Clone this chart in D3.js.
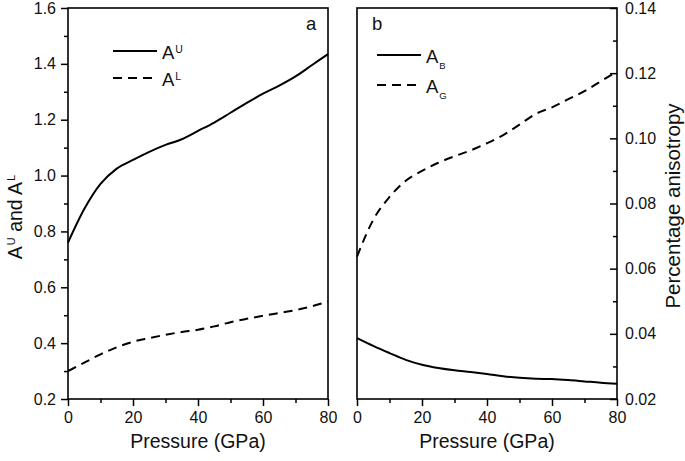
<!DOCTYPE html>
<html>
<head>
<meta charset="utf-8">
<script src="https://cdn.jsdelivr.net/npm/d3@7"></script>
<style>
  body { margin: 0; background: #fff; }
  svg { font-family: "Liberation Sans", Arial, sans-serif; }
</style>
</head>
<body>
<div id="chart"></div>
<script>
// Dữ liệu áp suất (GPa)
const pressure = [0, 5, 10, 15, 20, 25, 30, 35, 40, 45, 50, 55, 60, 65, 70, 75, 80];
// Panel a
const aU = [0.76, 0.88, 0.97, 1.025, 1.056, 1.085, 1.11, 1.13, 1.16, 1.19, 1.225, 1.26, 1.293, 1.322, 1.355, 1.395, 1.435];
const aL = [0.30, 0.33, 0.36, 0.385, 0.405, 0.418, 0.43, 0.44, 0.448, 0.46, 0.475, 0.487, 0.498, 0.508, 0.518, 0.532, 0.549];
// Panel b
const aB = [0.0387, 0.0363, 0.0341, 0.032, 0.0305, 0.0295, 0.0288, 0.0283, 0.0277, 0.027, 0.0265, 0.0262, 0.0261, 0.0258, 0.0254, 0.025, 0.0247];
const aG = [0.0637, 0.075, 0.082, 0.087, 0.090, 0.0925, 0.0945, 0.0963, 0.0985, 0.101, 0.1042, 0.1075, 0.1095, 0.112, 0.1145, 0.1175, 0.1205];

const xTicks = [0, 20, 40, 60, 80];
const xMinor = [10, 30, 50, 70];
const yTicksA = [0.2, 0.4, 0.6, 0.8, 1.0, 1.2, 1.4, 1.6];
const yMinorA = [0.3, 0.5, 0.7, 0.9, 1.1, 1.3, 1.5];
const yTicksB = [0.02, 0.04, 0.06, 0.08, 0.10, 0.12, 0.14];
const yMinorB = [0.03, 0.05, 0.07, 0.09, 0.11, 0.13];

const width = 685, height = 461;
const plotTop = 8, plotBottom = 399;

const svg = d3.select('#chart').append('svg')
    .attr('width', width)
    .attr('height', height);

const dash = '9,6';

// Vẽ một panel
function drawPanel(opt) {
    const x = d3.scaleLinear().domain([0, 80]).range([opt.x0, opt.x1]);
    const y = d3.scaleLinear().domain(opt.yDomain).range([plotBottom, plotTop]);
    const g = svg.append('g');

    // Trục x (tick hướng ra ngoài)
    g.append('g')
        .attr('transform', `translate(0,${plotBottom})`)
        .call(d3.axisBottom(x).tickValues(xMinor).tickSize(4).tickFormat(''))
        .call(s => s.select('.domain').remove());
    g.append('g')
        .attr('transform', `translate(0,${plotBottom})`)
        .call(d3.axisBottom(x).tickValues(xTicks).tickSize(7).tickPadding(6).tickFormat(d3.format('d')))
        .call(s => s.select('.domain').remove());

    // Trục y
    const side = opt.yRight ? d3.axisRight : d3.axisLeft;
    const yPos = opt.yRight ? opt.x1 : opt.x0;
    const dir = opt.yInward ? -1 : 1;
    g.append('g')
        .attr('transform', `translate(${yPos},0)`)
        .call(side(y).tickValues(opt.yMinor).tickSize(4 * dir).tickFormat(''))
        .call(s => s.select('.domain').remove());
    const major = g.append('g')
        .attr('transform', `translate(${yPos},0)`)
        .call(side(y).tickValues(opt.yTicks).tickSize(7 * dir).tickFormat(opt.yFormat))
        .call(s => s.select('.domain').remove());
    major.selectAll('text')
        .attr('x', opt.yRight ? 8 : -12);

    svg.selectAll('.tick line').attr('stroke', '#000').attr('stroke-width', 1.5);
    svg.selectAll('.tick text').attr('font-size', 16).attr('fill', '#111')
        .attr('font-family', '"Liberation Sans", Arial, sans-serif');

    // Khung
    g.append('rect')
        .attr('x', opt.x0).attr('y', plotTop)
        .attr('width', opt.x1 - opt.x0).attr('height', plotBottom - plotTop)
        .attr('fill', 'none').attr('stroke', '#000').attr('stroke-width', 1.6);

    // Đường cong
    const line = d3.line()
        .x((d, i) => x(pressure[i]))
        .y(d => y(d))
        .curve(d3.curveMonotoneX);
    opt.series.forEach(s => {
        g.append('path')
            .datum(s.values)
            .attr('d', line)
            .attr('fill', 'none')
            .attr('stroke', '#000')
            .attr('stroke-width', 2)
            .attr('stroke-dasharray', s.dashed ? dash : null);
    });

    // Chú giải
    opt.series.forEach((s, i) => {
        const ly = opt.legendY + i * opt.legendGap;
        g.append('line')
            .attr('x1', opt.legendX).attr('x2', opt.legendX + 44)
            .attr('y1', ly).attr('y2', ly)
            .attr('stroke', '#000').attr('stroke-width', 2)
            .attr('stroke-dasharray', s.dashed ? dash : null);
        const t = g.append('text')
            .attr('x', opt.legendX + 49).attr('y', ly + 7.5)
            .attr('font-size', 18.5).attr('fill', '#111');
        t.append('tspan').text('A');
        t.append('tspan')
            .attr('font-size', opt.sub ? 9.5 : 10.5)
            .attr('dx', 1)
            .attr('dy', opt.sub ? 6.5 : -6)
            .text(s.label);
    });

    // Nhãn panel
    g.append('text')
        .attr('x', opt.tagX).attr('y', 30)
        .attr('font-size', 18.5).attr('fill', '#111')
        .text(opt.tag);

    // Tiêu đề trục x
    g.append('text')
        .attr('x', (opt.x0 + opt.x1) / 2).attr('y', 448)
        .attr('text-anchor', 'middle')
        .attr('font-size', 19.5).attr('fill', '#111')
        .text('Pressure (GPa)');
}

drawPanel({
    x0: 68, x1: 328,
    yDomain: [0.2, 1.6], yTicks: yTicksA, yMinor: yMinorA,
    yFormat: d3.format('.1f'), yRight: false, yInward: false,
    series: [{ values: aU, label: 'U' }, { values: aL, label: 'L', dashed: true }],
    legendX: 113, legendY: 51, legendGap: 27, sub: false,
    tag: 'a', tagX: 306
});

drawPanel({
    x0: 357, x1: 617,
    yDomain: [0.02, 0.14], yTicks: yTicksB, yMinor: yMinorB,
    yFormat: d3.format('.2f'), yRight: true, yInward: true,
    series: [{ values: aB, label: 'B' }, { values: aG, label: 'G', dashed: true }],
    legendX: 377, legendY: 55, legendGap: 30, sub: true,
    tag: 'b', tagX: 372
});

// Tiêu đề trục y trái
const yl = svg.append('text')
    .attr('transform', 'translate(22,217) rotate(-90)')
    .attr('text-anchor', 'middle')
    .attr('font-size', 19.5).attr('fill', '#111');
yl.append('tspan').text('A');
yl.append('tspan').attr('font-size', 11).attr('dx', 1).attr('dy', -7).text('U');
yl.append('tspan').attr('dy', 7).text(' and A');
yl.append('tspan').attr('font-size', 11).attr('dx', 1).attr('dy', -7).text('L');

// Tiêu đề trục y phải
svg.append('text')
    .attr('transform', 'translate(680,206) rotate(-90)')
    .attr('text-anchor', 'middle')
    .attr('font-size', 20.5).attr('fill', '#111')
    .text('Percentage anisotropy');
</script>
</body>
</html>
